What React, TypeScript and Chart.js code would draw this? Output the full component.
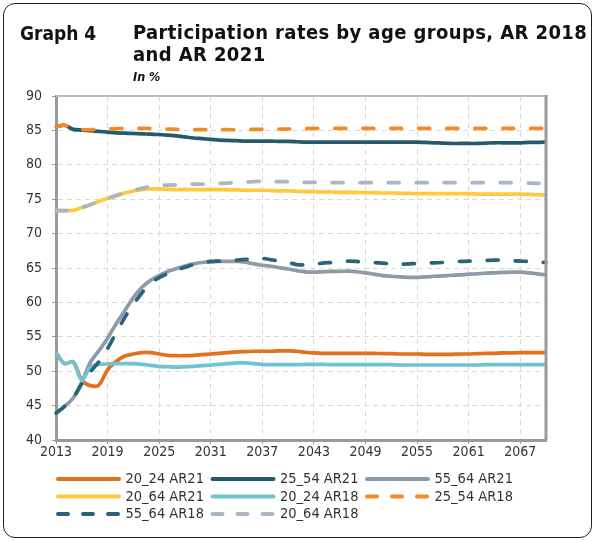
import React, { useEffect, useRef } from "react";
import { Chart, registerables } from "chart.js";

Chart.register(...registerables);

const FONT = "'DejaVu Sans Condensed', 'DejaVu Sans', sans-serif";

const YEARS: string[] = [];
for (let y = 2013; y <= 2070; y++) YEARS.push(String(y));

const SERIES_NAMES = [
  "20_24 AR21",
  "25_54 AR21",
  "55_64 AR21",
  "20_64 AR21",
  "20_24 AR18",
  "25_54 AR18",
  "55_64 AR18",
  "20_64 AR18",
];

// 2013 .. 2070 (rows of 10 years)
const P20_24_AR21 = [
  52.7, 51.1, 51.35, 48.7, 47.9, 48.0, 50.2, 51.4, 52.2, 52.5,
  52.7, 52.7, 52.5, 52.3, 52.25, 52.25, 52.3, 52.4, 52.5, 52.6,
  52.7, 52.8, 52.85, 52.9, 52.9, 52.9, 52.95, 52.95, 52.9, 52.75,
  52.65, 52.6, 52.6, 52.6, 52.6, 52.6, 52.6, 52.6, 52.55, 52.55,
  52.5, 52.5, 52.5, 52.45, 52.45, 52.45, 52.45, 52.5, 52.5, 52.55,
  52.6, 52.6, 52.65, 52.65, 52.7, 52.7, 52.7, 52.7,
];
const P25_54_AR21 = [
  85.5, 85.75, 85.15, 85.05, 84.95, 84.85, 84.75, 84.65, 84.6, 84.55,
  84.5, 84.45, 84.4, 84.3, 84.2, 84.05, 83.9, 83.8, 83.7, 83.6,
  83.55, 83.5, 83.45, 83.45, 83.45, 83.45, 83.4, 83.4, 83.35, 83.3,
  83.3, 83.3, 83.3, 83.3, 83.3, 83.3, 83.3, 83.3, 83.3, 83.3,
  83.3, 83.3, 83.3, 83.25, 83.2, 83.15, 83.1, 83.1, 83.1, 83.1,
  83.15, 83.2, 83.2, 83.2, 83.2, 83.25, 83.25, 83.3,
];
const P55_64_AR21 = [
  43.9, 44.9, 46.1, 48.4, 51.3, 53.0, 54.8, 56.9, 58.8, 60.7,
  62.2, 63.2, 63.9, 64.5, 64.9, 65.3, 65.6, 65.8, 65.9, 65.95,
  65.95, 65.95, 65.85, 65.6, 65.4, 65.25, 65.05, 64.85, 64.6, 64.45,
  64.4, 64.45, 64.5, 64.5, 64.55, 64.45, 64.3, 64.1, 63.9, 63.8,
  63.7, 63.65, 63.65, 63.7, 63.8, 63.85, 63.95, 64.0, 64.1, 64.15,
  64.25, 64.3, 64.35, 64.4, 64.4, 64.3, 64.15, 64.0,
];
const P20_64_AR21 = [
  73.35, 73.35, 73.4, 73.8, 74.2, 74.7, 75.1, 75.5, 75.9, 76.2,
  76.4, 76.5, 76.5, 76.45, 76.4, 76.4, 76.4, 76.4, 76.4, 76.4,
  76.35, 76.35, 76.3, 76.3, 76.3, 76.25, 76.2, 76.2, 76.15, 76.1,
  76.1, 76.05, 76.05, 76.0, 76.0, 76.0, 75.95, 75.95, 75.9, 75.9,
  75.85, 75.85, 75.8, 75.8, 75.8, 75.8, 75.8, 75.8, 75.8, 75.75,
  75.75, 75.75, 75.75, 75.75, 75.75, 75.7, 75.65, 75.6,
];
const P20_24_AR18 = [
  52.7, 51.1, 51.35, 48.7, 50.6, 51.0, 51.05, 51.1, 51.1, 51.1,
  51.0, 50.85, 50.7, 50.65, 50.6, 50.65, 50.7, 50.8, 50.9, 51.0,
  51.1, 51.2, 51.2, 51.1, 51.0, 50.95, 50.95, 50.95, 50.95, 51.0,
  51.0, 51.0, 50.95, 50.95, 50.95, 50.95, 50.95, 50.95, 50.95, 50.95,
  50.9, 50.9, 50.9, 50.9, 50.9, 50.9, 50.9, 50.9, 50.9, 50.9,
  50.95, 50.95, 50.95, 50.95, 50.95, 50.95, 50.95, 50.95,
];
const P25_54_AR18 = [
  85.5, 85.75, 85.15, 85.1, 85.1, 85.15, 85.2, 85.25, 85.3, 85.3,
  85.3, 85.3, 85.25, 85.2, 85.15, 85.1, 85.1, 85.1, 85.1, 85.1,
  85.1, 85.1, 85.15, 85.15, 85.15, 85.2, 85.2, 85.2, 85.25, 85.25,
  85.3, 85.3, 85.3, 85.3, 85.3, 85.3, 85.3, 85.3, 85.3, 85.3,
  85.3, 85.3, 85.3, 85.3, 85.3, 85.3, 85.3, 85.3, 85.3, 85.3,
  85.3, 85.3, 85.3, 85.3, 85.3, 85.3, 85.3, 85.3,
];
const P55_64_AR18 = [
  43.9, 44.9, 46.1, 48.2, 49.9, 51.4, 53.3, 55.6, 57.8, 59.7,
  61.4, 62.8, 63.6, 64.2, 64.7, 65.1, 65.5, 65.8, 65.95, 66.0,
  66.05, 66.15, 66.25, 66.3, 66.4, 66.2, 66.0, 65.8, 65.5, 65.45,
  65.55, 65.7, 65.8, 65.9, 66.0, 65.95, 65.85, 65.8, 65.7, 65.6,
  65.55, 65.6, 65.65, 65.7, 65.75, 65.8, 65.9, 65.95, 66.0, 66.05,
  66.1, 66.15, 66.15, 66.05, 66.0, 65.95, 65.85, 65.8,
];
const P20_64_AR18 = [
  73.35, 73.35, 73.4, 73.8, 74.2, 74.7, 75.1, 75.55, 75.95, 76.3,
  76.6, 76.85, 77.0, 77.05, 77.1, 77.15, 77.2, 77.2, 77.25, 77.3,
  77.35, 77.45, 77.5, 77.55, 77.6, 77.6, 77.55, 77.55, 77.5, 77.45,
  77.45, 77.4, 77.4, 77.4, 77.4, 77.4, 77.4, 77.4, 77.4, 77.4,
  77.4, 77.4, 77.4, 77.4, 77.4, 77.4, 77.4, 77.4, 77.4, 77.4,
  77.4, 77.4, 77.4, 77.4, 77.4, 77.35, 77.3, 77.3,
];

const SERIES_VALUES = [
  P20_24_AR21,
  P25_54_AR21,
  P55_64_AR21,
  P20_64_AR21,
  P20_24_AR18,
  P25_54_AR18,
  P55_64_AR18,
  P20_64_AR18,
];

const COLORS = [
  "#E3701A",
  "#245A6C",
  "#8F9AA8",
  "#FFC83D",
  "#70C3D2",
  "#F58A25",
  "#2A6479",
  "#AAB6C4",
];
const DASHED = [false, false, false, false, false, true, true, true];

const Y_MIN = 40;
const Y_MAX = 90;
const Y_STEP = 5;
const X_TICK_EVERY = 6;

const frameBorder = {
  id: "frameBorder",
  afterDatasetsDraw(chart: any) {
    const { ctx, chartArea } = chart;
    const { left, right, top, bottom } = chartArea;
    ctx.save();
    ctx.setLineDash([]);
    ctx.strokeStyle = "#BDBDBD";
    ctx.lineWidth = 2;
    ctx.beginPath();
    ctx.moveTo(left, top);
    ctx.lineTo(right, top);
    ctx.stroke();
    ctx.strokeStyle = "#9A9A9A";
    ctx.lineWidth = 3;
    ctx.beginPath();
    ctx.moveTo(right, top - 1);
    ctx.lineTo(right, bottom);
    ctx.stroke();
    ctx.restore();
  },
};

const gridLegend = {
  id: "gridLegend",
  afterDraw(chart: any) {
    const { ctx } = chart;
    const x0 = 58;
    const colW = 154.5;
    const y0 = 479;
    const rowH = 17.5;
    const lineLen = 61;
    chart.data.datasets.forEach((ds: any, i: number) => {
      const col = i % 3;
      const row = Math.floor(i / 3);
      const x = x0 + col * colW;
      const y = y0 + row * rowH;
      ctx.save();
      ctx.strokeStyle = ds.borderColor;
      ctx.lineWidth = 4;
      ctx.lineCap = "round";
      ctx.setLineDash(ds.borderDash && ds.borderDash.length ? [10, 15] : []);
      ctx.beginPath();
      ctx.moveTo(x, y);
      ctx.lineTo(x + lineLen, y);
      ctx.stroke();
      ctx.setLineDash([]);
      ctx.fillStyle = "#333";
      ctx.font = `14.5px ${FONT}`;
      ctx.textBaseline = "middle";
      ctx.textAlign = "left";
      ctx.fillText(ds.label, x + 67.5, y + 0.5);
      ctx.restore();
    });
  },
};

export default function App() {
  const canvasRef = useRef<HTMLCanvasElement | null>(null);

  useEffect(() => {
    if (!canvasRef.current) return;
    const datasets = SERIES_NAMES.map((name, i) => ({
      label: name,
      data: SERIES_VALUES[i],
      borderColor: COLORS[i],
      backgroundColor: COLORS[i],
      borderWidth: 3.7,
      borderDash: DASHED[i] ? [11, 17] : [],
      borderCapStyle: DASHED[i] ? ("round" as const) : ("butt" as const),
      borderJoinStyle: "round" as const,
      pointRadius: 0,
      tension: 0.3,
      fill: false,
      order: SERIES_NAMES.length - i,
    }));

    const chart = new Chart(canvasRef.current, {
      type: "line",
      data: { labels: YEARS, datasets },
      options: {
        animation: false,
        responsive: false,
        devicePixelRatio: 1,
        layout: { padding: { left: 0, right: 49, top: 96, bottom: 0 } },
        plugins: {
          legend: { display: false },
          tooltip: { enabled: false },
          title: { display: false },
        },
        scales: {
          x: {
            type: "category",
            offset: false,
            afterFit: (scale: any) => {
              scale.height = 101;
            },
            grid: {
              color: (c: any) => (c.index % X_TICK_EVERY === 0 ? "#D9D9D9" : "rgba(0,0,0,0)"),
              lineWidth: 1,
              tickLength: 4,
              tickColor: (c: any) => (c.index % X_TICK_EVERY === 0 ? "#999" : "rgba(0,0,0,0)"),
              tickBorderDash: [],
              drawOnChartArea: true,
            },
            border: { color: "#9A9A9A", width: 3, dash: [5, 4] },
            ticks: {
              autoSkip: false,
              maxRotation: 0,
              minRotation: 0,
              padding: 0,
              color: "#333",
              font: { family: FONT, size: 14 },
              callback: (_v: any, idx: number) => (idx % X_TICK_EVERY === 0 ? YEARS[idx] : ""),
            },
          },
          y: {
            min: Y_MIN,
            max: Y_MAX,
            afterFit: (scale: any) => {
              scale.width = 56;
            },
            grid: {
              color: "#D9D9D9",
              lineWidth: 1,
              tickLength: 4,
              tickColor: "#999",
              tickBorderDash: [],
            },
            border: { color: "#9A9A9A", width: 3, dash: [5, 4] },
            ticks: {
              stepSize: Y_STEP,
              padding: 10,
              color: "#333",
              font: { family: FONT, size: 14 },
            },
          },
        },
      },
      plugins: [frameBorder, gridLegend],
    });
    return () => chart.destroy();
  }, []);

  return (
    <div style={{ position: "absolute", left: 0, top: 0, width: 595, height: 541, fontFamily: FONT, color: "#111" }}>
      <canvas ref={canvasRef} width={595} height={541} style={{ position: "absolute", left: 0, top: 0 }} />
      <div
        style={{
          position: "absolute",
          left: 3,
          top: 3,
          width: 589,
          height: 535,
          border: "1.5px solid #222",
          borderRadius: 12,
          boxSizing: "border-box",
          pointerEvents: "none",
        }}
      />
      <div style={{ position: "absolute", left: 20, top: 22, fontWeight: "bold", fontSize: 19, lineHeight: "22px", whiteSpace: "nowrap" }}>
        Graph 4
      </div>
      <div
        style={{
          position: "absolute",
          left: 133,
          top: 21,
          fontWeight: "bold",
          fontSize: 20,
          letterSpacing: "0.4px",
          lineHeight: "22px",
          whiteSpace: "nowrap",
        }}
      >
        Participation rates by age groups, AR 2018
        <br />
        and AR 2021
      </div>
      <div style={{ position: "absolute", left: 133, top: 69, fontWeight: "bold", fontStyle: "italic", fontSize: 12.5, lineHeight: "15px" }}>
        In %
      </div>
    </div>
  );
}
